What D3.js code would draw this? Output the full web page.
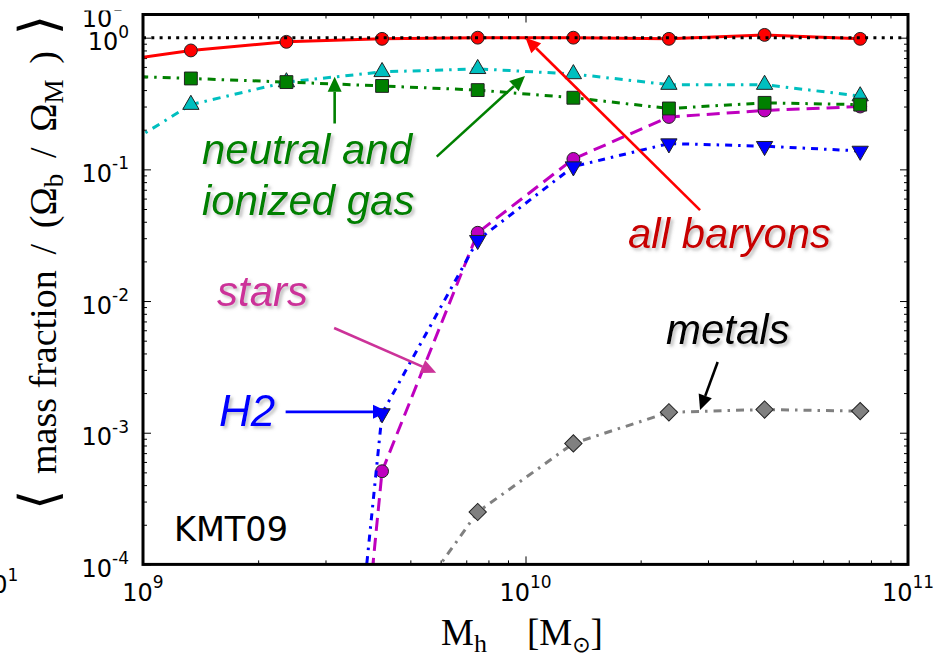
<!DOCTYPE html>
<html>
<head>
<meta charset="utf-8">
<script src="https://cdn.jsdelivr.net/npm/d3@7"></script>
<style>
  body { margin: 0; background: #fff; }
  svg { display: block; }
</style>
</head>
<body>
<svg id="chart" width="935" height="659"></svg>
<script>
// Halo-mass bins (Msun); the first bin lies left of the plotted range
const haloMass   = [7.5e8, 1.334e9, 2.371e9, 4.217e9, 7.499e9, 1.334e10, 2.371e10, 4.217e10, 7.499e10];
// Mean mass fractions, in units of the cosmic baryon fraction
const allBaryons = [0.63, 0.80, 0.93, 0.98, 1.00, 1.00, 0.98, 1.05, 0.98];
const neutralGas = [0.52, 0.49, 0.46, 0.43, 0.40, 0.35, 0.29, 0.32, 0.31];
const ionizedGas = [0.11, 0.31, 0.46, 0.55, 0.58, 0.53, 0.44, 0.44, 0.36];
const stars      = [null, null, 2e-11, 5.1e-4, 0.033, 0.12, 0.25, 0.28, 0.30];
const h2         = [null, null, 1e-10, 1.4e-3, 0.029, 0.105, 0.157, 0.150, 0.138];
const metals     = [null, null, null, 2.4e-5, 2.5e-4, 8.3e-4, 1.43e-3, 1.5e-3, 1.46e-3];

const xTickExps = [9, 10, 11];
const yTickExps = [-4, -3, -2, -1, 0];

const plot = { left: 143, right: 908, top: 14.5, bottom: 564.4 };

const svg = d3.select('#chart');
const x = d3.scaleLog().domain([1e9, 1e11]).range([plot.left, plot.right]);
const y = d3.scaleLog().domain([1e-4, 1.5]).range([plot.bottom, plot.top]);

const defs = svg.append('defs');
defs.append('clipPath').attr('id', 'plotClip')
  .append('rect')
  .attr('x', plot.left).attr('y', plot.top)
  .attr('width', plot.right - plot.left).attr('height', plot.bottom - plot.top);
defs.append('clipPath').attr('id', 'topClip')
  .append('rect').attr('x', 0).attr('y', 10.5).attr('width', 200).attr('height', 40);
const shadow = defs.append('filter').attr('id', 'softShadow')
  .attr('x', '-10%').attr('y', '-10%').attr('width', '130%').attr('height', '140%');
shadow.append('feDropShadow').attr('dx', 2.5).attr('dy', 2.5).attr('stdDeviation', 1.6)
  .attr('flood-color', '#777').attr('flood-opacity', 0.45);

// ---- major / minor tick values on a log axis ----
function decadeTicks(lo, hi) {
  const major = [], minor = [];
  for (let e = lo; e <= hi; e++) {
    major.push(Math.pow(10, e));
    if (e < hi) for (let k = 2; k <= 9; k++) minor.push(k * Math.pow(10, e));
  }
  return { major, minor };
}
const xt = decadeTicks(9, 11);
const yt = decadeTicks(-4, 0);

function tickAxis(axisFn, scale, values, size, transform) {
  const g = svg.append('g').attr('transform', transform)
    .call(axisFn(scale).tickValues(values).tickSizeInner(size).tickSizeOuter(0).tickFormat(''));
  g.select('.domain').remove();
  g.selectAll('line').attr('stroke', '#000').attr('stroke-width', 1);
  return g;
}
// ticks point into the plot on all four sides
tickAxis(d3.axisBottom, x, xt.major, -8, `translate(0,${plot.bottom})`);
tickAxis(d3.axisBottom, x, xt.minor, -4, `translate(0,${plot.bottom})`);
tickAxis(d3.axisTop, x, xt.major, -8, `translate(0,${plot.top})`);
tickAxis(d3.axisTop, x, xt.minor, -4, `translate(0,${plot.top})`);
tickAxis(d3.axisLeft, y, yt.major, -8, `translate(${plot.left},0)`);
tickAxis(d3.axisLeft, y, yt.minor, -4, `translate(${plot.left},0)`);
tickAxis(d3.axisRight, y, yt.major, -8, `translate(${plot.right},0)`);
tickAxis(d3.axisRight, y, yt.minor, -4, `translate(${plot.right},0)`);

// ---- series ----
const seriesList = [
  { values: ionizedGas, color: '#00bfbf', dash: '8,6,2.5,6', width: 3, symbol: 'triUp' },
  { values: stars,      color: '#bf00bf', dash: '13,7',      width: 3, symbol: 'circle' },
  { values: h2,         color: '#0000ff', dash: '7,6,2.5,6', width: 3, symbol: 'triDown' },
  { values: neutralGas, color: '#008000', dash: '8,6,2.5,6', width: 3, symbol: 'square' },
  { values: metals,     color: '#808080', dash: '8,6,2.5,6', width: 3, symbol: 'diamond' },
  { values: allBaryons, color: '#ff0000', dash: null,        width: 3, symbol: 'circle' }
];

const symbolPath = {
  circle:  d3.symbol().type(d3.symbolCircle).size(130)(),
  square:  d3.symbol().type(d3.symbolSquare).size(165)(),
  triUp:   d3.symbol().type(d3.symbolTriangle).size(115)(),
  triDown: d3.symbol().type(d3.symbolTriangle).size(115)(),
  diamond: d3.symbol().type(d3.symbolSquare).size(150)()
};
const symbolRotate = { circle: 0, square: 0, triUp: 0, triDown: 180, diamond: 45 };

const plotG = svg.append('g').attr('clip-path', 'url(#plotClip)');
const line = d3.line()
  .defined(d => d.v != null)
  .x(d => x(d.m))
  .y(d => y(d.v));

seriesList.forEach(s => {
  const pts = haloMass.map((m, i) => ({ m, v: s.values[i] }));
  const g = plotG.append('g');
  g.append('path')
    .datum(pts)
    .attr('d', line)
    .attr('fill', 'none')
    .attr('stroke', s.color)
    .attr('stroke-width', s.width)
    .attr('stroke-dasharray', s.dash);
  g.selectAll('path.marker')
    .data(pts.filter(d => d.v != null))
    .join('path')
    .attr('class', 'marker')
    .attr('d', symbolPath[s.symbol])
    .attr('transform', d => `translate(${x(d.m)},${y(d.v)}) rotate(${symbolRotate[s.symbol]})`)
    .attr('fill', s.color)
    .attr('stroke', '#222')
    .attr('stroke-width', 1);
});

// dotted reference line at the cosmic baryon fraction
plotG.append('line')
  .attr('x1', plot.left).attr('x2', plot.right)
  .attr('y1', y(1)).attr('y2', y(1))
  .attr('stroke', '#000').attr('stroke-width', 3)
  .attr('stroke-dasharray', '3,5.3');

// frame
svg.append('rect')
  .attr('x', plot.left).attr('y', plot.top)
  .attr('width', plot.right - plot.left).attr('height', plot.bottom - plot.top)
  .attr('fill', 'none').attr('stroke', '#000').attr('stroke-width', 3);

// ---- tick labels ----
function powerLabel(parent, base, exp, px, py, anchor, size, supSize, rise) {
  const t = parent.append('text')
    .attr('x', px).attr('y', py)
    .attr('text-anchor', anchor)
    .style('font-family', 'DejaVu Sans')
    .style('font-size', size + 'px')
    .attr('fill', '#000');
  t.append('tspan').text(base);
  t.append('tspan').attr('dy', -rise).style('font-size', supSize + 'px').text(exp);
  return t;
}
xTickExps.forEach(e => powerLabel(svg, '10', String(e), x(Math.pow(10, e)), 601, 'middle', 24, 17, 13));
yTickExps.forEach(e => powerLabel(svg, '10', String(e), 129, y(Math.pow(10, e)) + 12.5, 'end', 24, 17, 12.5));

// labels of neighbouring panels cut by the figure edge
powerLabel(svg.append('g').attr('clip-path', 'url(#topClip)'), '10', '1', 81.7, 26.7, 'start', 24, 17, 16);
powerLabel(svg, '10', '1', -23, 593, 'start', 24, 17, 12.5);

// ---- axis titles ----
const xTitle = svg.append('text')
  .attr('x', 441).attr('y', 645)
  .style('font-family', 'Liberation Serif, DejaVu Serif, serif')
  .style('font-size', '37px').attr('fill', '#000');
xTitle.append('tspan').text('M');
xTitle.append('tspan').attr('dy', 7).style('font-size', '26px').text('h');
xTitle.append('tspan').attr('dx', 40).attr('dy', -7).text('[M');
xTitle.append('tspan').attr('dy', 7).style('font-size', '22px').style('font-family', 'DejaVu Sans').text('\u2299');
xTitle.append('tspan').attr('dy', -7).text(']');

const yTitle = svg.append('text')
  .attr('text-anchor', 'middle')
  .attr('transform', 'translate(56,262.5) rotate(-90)')
  .style('font-family', 'Liberation Serif, DejaVu Serif, serif')
  .style('font-size', '38px').attr('fill', '#000');
const gaps = [];
yTitle.append('tspan').style('font-family', 'DejaVu Sans').style('font-size', '52px').text('\u27E8');
gaps.push(yTitle.append('tspan').text('mass fraction'));
gaps.push(yTitle.append('tspan').text('/'));
gaps.push(yTitle.append('tspan').text('(\u03A9'));
yTitle.append('tspan').attr('dy', 7).style('font-size', '27px').text('b');
gaps.push(yTitle.append('tspan').attr('dy', -7).text('/'));
gaps.push(yTitle.append('tspan').text('\u03A9'));
yTitle.append('tspan').attr('dy', 7).style('font-size', '27px').text('M');
gaps.push(yTitle.append('tspan').attr('dy', -7).text(')'));
gaps.push(yTitle.append('tspan').style('font-family', 'DejaVu Sans').style('font-size', '52px').text('\u27E9'));
// spread the pieces evenly so the title runs from y = 15 to y = 510
const naturalLen = yTitle.node().getComputedTextLength();
const gapSize = Math.max(0, (495 - naturalLen) / gaps.length);
gaps.forEach(t => t.attr('dx', gapSize));

// ---- model label ----
svg.append('text')
  .attr('x', 174).attr('y', 541)
  .style('font-family', 'DejaVu Sans').style('font-size', '33.5px')
  .attr('fill', '#000').text('KMT09');

// ---- annotations (arrow tail, arrow tip in data units) ----
const annotations = [
  { lines: ['neutral and', 'ionized gas'], tx: 202, ty: 164, color: '#008000',
    arrows: [ { from: [3.17e9, 0.223], to: [3.17e9, 0.505] },
              { from: [5.86e9, 0.125], to: [9.97e9, 0.511] } ] },
  { lines: ['all baryons'], tx: 628, ty: 248, color: '#c80000', arrowColor: '#ff0000',
    arrows: [ { from: [2.86e10, 0.049], to: [1.0e10, 1.0] } ] },
  { lines: ['stars'], tx: 217, ty: 306, color: '#cc3399',
    arrows: [ { from: [3.16e9, 6.24e-3], to: [5.84e9, 2.86e-3] } ] },
  { lines: ['H2'], tx: 219, ty: 426, color: '#0000ff', size: 44,
    arrows: [ { from: [2.36e9, 1.44e-3], to: [4.37e9, 1.44e-3] } ] },
  { lines: ['metals'], tx: 666, ty: 344, color: '#000000',
    arrows: [ { from: [3.18e10, 3.44e-3], to: [2.86e10, 1.49e-3] } ] }
];

const annG = svg.append('g');
annotations.forEach(a => {
  const ac = a.arrowColor || a.color;
  a.arrows.forEach(ar => {
    const x0 = x(ar.from[0]), y0 = y(ar.from[1]);
    const x1 = x(ar.to[0]), y1 = y(ar.to[1]);
    const ang = Math.atan2(y1 - y0, x1 - x0);
    const headLen = 15, headHalf = 7;
    const bx = x1 - headLen * Math.cos(ang), by = y1 - headLen * Math.sin(ang);
    annG.append('line')
      .attr('x1', x0).attr('y1', y0).attr('x2', bx).attr('y2', by)
      .attr('stroke', ac).attr('stroke-width', 2.6);
    const px = -Math.sin(ang), py = Math.cos(ang);
    annG.append('path')
      .attr('d', `M${x1},${y1}L${bx + headHalf * px},${by + headHalf * py}L${bx - headHalf * px},${by - headHalf * py}Z`)
      .attr('fill', ac);
  });
  const t = annG.append('text')
    .attr('x', a.tx).attr('y', a.ty)
    .style('font-family', 'Liberation Sans, Arial, sans-serif')
    .style('font-style', 'italic')
    .style('font-size', (a.size || 42) + 'px')
    .attr('fill', a.color)
    .attr('filter', 'url(#softShadow)');
  a.lines.forEach((s, i) => {
    t.append('tspan').attr('x', a.tx).attr('dy', i === 0 ? 0 : 51).text(s);
  });
});
</script>
</body>
</html>
